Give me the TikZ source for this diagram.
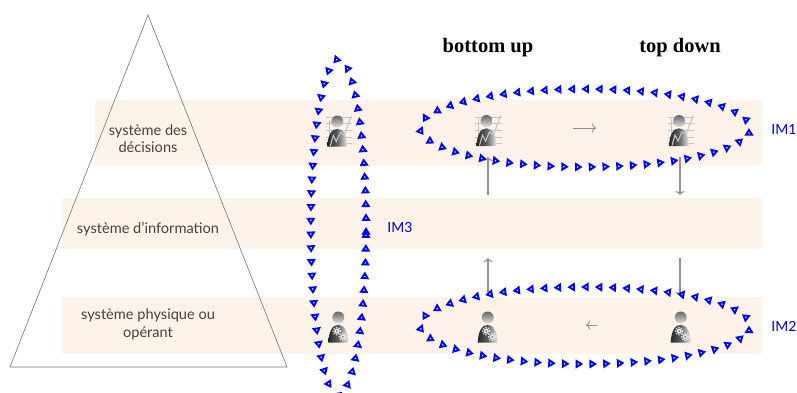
\documentclass[tikz,border=0pt]{standalone}
\usepackage{fontspec}
\setmainfont{Liberation Serif}
\setsansfont{Lato}
\usepackage{xcolor}
\usetikzlibrary{arrows.meta,decorations.markings}

\definecolor{bandfill}{HTML}{FDF3EA}
\definecolor{labeltext}{HTML}{4A403A}
\definecolor{flowgray}{HTML}{96918C}

\tikzset{
  band/.style={fill=bandfill,draw=none},
  layerlabel/.style={font=\sffamily\fontsize{14.6}{17.5}\selectfont,text=labeltext,align=center},
  imlabel/.style={font=\sffamily\fontsize{14}{16}\selectfont,text=blue!85!black},
  headline/.style={font=\rmfamily\bfseries\fontsize{20.5}{22}\selectfont},
  flow/.style={draw=flowgray,line width=1.1pt,-{To[length=4pt,width=9pt]}},
  flowlight/.style={draw=flowgray,line width=0.9pt,-{To[length=4pt,width=9pt]}},
  loopmarks/.style={decorate,decoration={markings,
    mark=between positions 0 and 1 step 13.75pt with {\arrow[blue,line width=1.9pt]{Triangle[open,length=7.6pt,width=8.6pt]}}}},
  personshape/.pic={
    \shade[left color=black!85,right color=black!8,middle color=black!62]
      (-10,25) .. controls (-9.5,14) and (-6,7.3) .. (0,7.3)
      .. controls (6,7.3) and (9.5,14) .. (10,25) -- cycle;
    \shade[top color=black!60,bottom color=black!12] (0,0) circle (6);
  },
  persongears/.pic={
    \pic {personshape};
    \foreach \gx/\gy in {-1.5/13.6,4.5/19.3} {
      \fill[white!85!gray] (\gx,\gy) circle (2.6);
      \draw[white!85!gray,line width=1.3pt,dash pattern=on 1.2pt off 1.4pt] (\gx,\gy) circle (3.6);
      \fill[black!55] (\gx,\gy) circle (1);
    }
  },
  personchart/.pic={
    \foreach \ly in {-4,2,9,16,22} {
      \draw[gray!45,line width=0.9pt] (-11.5,\ly) -- (15,\ly);
    }
    \draw[gray!45,line width=1pt] (-8,24) -- (-8,-2);
    \pic {personshape};
    \draw[gray!45,line width=1.1pt] (-7,24.5) -- (-4,14) -- (-1,20) -- (3,11) -- (7,14) -- (14,-5.5);
  }
}

\begin{document}
\begin{tikzpicture}[x=1pt,y=-1pt]
\useasboundingbox (0,0) rectangle (797,392);

% Bands
\fill[band] (95,100) rectangle (762,165);
\fill[band] (62,198) rectangle (762,249);
\fill[band] (62,297) rectangle (762,354);

% Pyramid
\coordinate (apex) at (148,15);
\coordinate (baseleft) at (10,367);
\coordinate (baseright) at (287,367);
\draw[gray!90!black,line width=0.6pt] (apex) -- (baseleft) -- (baseright) -- cycle;

% Layers
\node[layerlabel] (decisions) at (148,138.5) {système des\\décisions};
\node[layerlabel] (information) at (148,229.5) {système d’information};
\node[layerlabel] (operant) at (148,324.5) {système physique ou\\opérant};

% Headings
\node[headline] (bottomup) at (488,48) {bottom up};
\node[headline] (topdown) at (680,48) {top down};

% People
\pic at (337.3,121.5) {personchart};
\pic at (486.5,121) {personchart};
\pic at (679,121) {personchart};
\pic at (338.3,317.5) {persongears};
\pic at (487.7,317.5) {persongears};
\pic at (680.7,317.5) {persongears};

% Flows
\coordinate (upa) at (488,195);
\coordinate (upb) at (488,157);
\coordinate (downa) at (680,157);
\coordinate (downb) at (680,195);
\coordinate (upc) at (488,295);
\coordinate (upd) at (488,258);
\coordinate (downc) at (680,258);
\coordinate (downd) at (680,296);
\coordinate (righta) at (573,128);
\coordinate (rightb) at (596,128);
\coordinate (lefta) at (597,325);
\coordinate (leftb) at (586,325);
\draw[flow] (upa) -- (upb);
\draw[flow] (downa) -- (downb);
\draw[flow] (upc) -- (upd);
\draw[flow] (downc) -- (downd);
\draw[flowlight] (righta) -- (rightb);
\draw[flowlight] (lefta) -- (leftb);

% Loops
\path[loopmarks] (749,128) arc[start angle=0,end angle=-360,x radius=164,y radius=39];
\path[loopmarks] (749,325.5) arc[start angle=0,end angle=-360,x radius=164,y radius=38.5];
\path[loopmarks] (366,227) arc[start angle=0,end angle=-360,x radius=27.6,y radius=166.5];

\node[imlabel] (imone) at (784,129) {IM1};
\node[imlabel] (imtwo) at (784,326) {IM2};
\node[imlabel] (imthree) at (400,227) {IM3};
\end{tikzpicture}
\end{document}
